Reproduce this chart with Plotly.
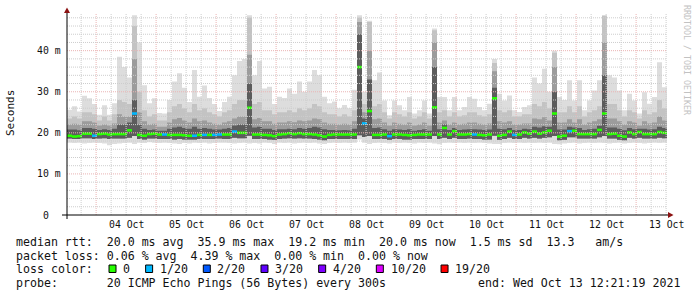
import pandas as pd
import plotly.graph_objects as go

# ---------------- data (2-hour bins, 03 Oct 12:21 -> 13 Oct 12:21) ----------------
start = pd.Timestamp("2021-10-03 12:21:19")
end = pd.Timestamp("2021-10-13 12:21:19")
bin_hours = 2

rtt_max = [25.6,26.5,25.2,29.0,28.4,27.0,24.4,26.7,24.4,27.2,
           38.5,36.0,33.5,48.6,42.0,31.6,27.2,28.4,24.8,24.7,
           28.0,32.5,34.5,31.0,27.5,35.3,28.8,31.5,28.5,27.0,
           25.3,27.5,28.8,34.0,37.5,38.0,48.6,34.0,37.5,30.8,
           31.2,27.0,28.8,28.5,30.8,29.5,32.5,30.0,32.5,35.3,
           34.0,28.8,27.2,27.6,26.0,26.8,26.0,30.5,48.6,30.0,
           47.3,32.8,34.7,27.9,24.3,27.9,26.7,25.5,28.7,24.7,
           25.5,27.9,24.7,45.4,28.7,28.7,25.5,28.7,25.5,26.3,
           28.7,28.3,26.3,25.5,27.1,38.0,29.5,27.9,29.1,25.5,
           25.1,26.3,26.7,33.5,32.0,35.6,30.0,40.0,28.7,28.0,
           32.8,27.9,32.8,25.5,27.9,30.3,32.8,48.6,34.0,33.5,
           30.3,25.5,29.5,27.9,24.7,29.9,27.1,28.7,37.2,31.1]

rtt_up2 = [23.5,24.0,23.5,25.0,25.0,24.5,23.0,24.0,23.0,24.5,
           28.0,27.5,27.0,46.0,30.0,25.5,24.0,24.5,23.0,23.0,
           25.0,26.5,27.0,26.0,25.0,27.0,25.5,26.0,25.0,24.5,
           24.0,25.0,25.5,27.0,28.0,28.0,48.0,27.0,27.5,25.5,
           25.5,24.5,25.0,25.0,25.5,25.0,26.0,25.5,26.0,27.0,
           26.5,25.0,24.5,24.5,24.0,24.5,24.0,25.5,48.0,27.0,
           47.0,26.5,27.0,25.0,23.5,25.0,24.5,24.0,25.0,23.5,
           24.0,25.0,23.5,45.0,25.0,25.5,24.0,25.0,24.0,24.3,
           25.0,25.0,24.3,24.0,24.5,37.0,25.5,25.0,25.5,24.0,
           24.0,24.5,24.5,27.0,26.5,27.5,26.0,39.5,25.0,25.0,
           26.5,25.0,26.5,24.0,25.0,25.5,26.5,48.5,27.0,27.0,
           25.5,24.0,25.5,25.0,23.5,25.5,24.5,25.0,28.0,26.0]

rtt_up3 = [22.0,22.2,22.0,22.8,22.8,22.5,21.8,22.0,21.8,22.3,
           24.5,24.0,24.0,38.0,25.0,22.8,22.0,22.2,21.5,21.5,
           22.5,23.3,23.6,23.0,22.5,23.5,22.8,23.0,22.5,22.2,
           22.0,22.5,22.8,23.5,24.0,24.0,39.0,23.3,23.6,22.8,
           22.8,22.2,22.5,22.5,22.8,22.6,23.0,22.8,23.0,23.5,
           23.3,22.5,22.2,22.2,22.0,22.2,22.0,22.8,47.0,25.0,
           40.0,23.3,23.5,22.5,21.8,22.5,22.2,22.0,22.5,21.8,
           22.0,22.5,21.8,42.0,22.5,23.0,22.0,22.5,22.0,22.2,
           22.5,22.5,22.2,22.0,22.3,35.0,22.8,22.5,22.8,22.0,
           22.0,22.3,22.3,23.5,23.3,23.8,23.0,36.0,22.5,22.5,
           23.3,22.5,23.3,22.0,22.5,22.8,23.3,42.0,23.5,23.5,
           22.8,22.0,22.8,22.5,21.8,22.8,22.3,22.5,24.0,23.0]

rtt_up4 = [20.8,20.8,20.6,21.2,21.2,21.0,20.7,20.9,20.7,21.0,
           22.0,22.0,22.5,28.0,22.0,21.0,20.7,20.8,20.5,20.5,
           21.0,21.3,21.5,21.2,21.0,21.5,21.0,21.2,21.0,20.8,
           20.8,21.0,21.2,21.8,22.0,22.0,32.0,21.3,21.5,21.0,
           21.0,20.7,20.9,20.9,21.0,20.9,21.2,21.0,21.2,21.5,
           21.3,20.9,20.7,20.7,20.6,20.7,20.6,21.0,44.0,23.5,
           33.0,21.2,21.3,20.9,20.5,20.9,20.8,20.7,20.9,20.5,
           20.7,20.9,20.5,36.0,20.9,22.0,20.7,21.2,20.7,20.8,
           20.9,20.9,20.8,20.7,20.8,31.0,21.0,20.9,21.2,20.7,
           20.7,21.0,20.9,21.5,21.3,21.6,21.5,30.0,20.8,20.8,
           21.5,21.3,21.2,20.7,20.9,21.0,21.7,34.0,21.3,21.3,
           21.0,20.6,21.2,20.9,21.0,21.0,20.8,20.9,21.5,21.2]

rtt_median = [19.3,19.1,19.2,19.8,19.8,19.3,19.7,19.8,19.6,19.7,
              19.7,19.7,20.6,24.7,19.5,19.3,19.7,19.8,19.6,19.6,
              19.5,19.5,19.5,19.4,19.3,19.3,19.5,19.5,19.5,19.5,
              19.6,19.6,19.6,20.3,20.0,20.0,26.1,19.6,19.6,19.5,
              19.4,19.2,19.6,19.7,19.9,19.7,19.9,19.7,19.7,19.6,
              19.4,19.1,19.5,19.6,19.6,19.6,19.6,19.6,36.0,22.3,
              25.3,19.5,19.5,19.6,19.2,19.6,19.6,19.5,19.4,19.5,
              19.6,19.6,19.6,26.2,19.6,21.2,19.6,20.4,19.6,19.6,
              19.7,19.6,19.5,19.4,19.6,28.4,19.3,19.5,20.3,19.5,
              19.6,20.1,19.8,20.3,19.8,20.1,20.5,24.7,19.1,19.3,
              20.4,20.5,19.7,19.7,19.7,19.7,20.7,24.7,19.7,19.8,
              19.3,19.1,20.1,19.7,20.2,19.7,19.7,19.7,20.2,20.0]

rtt_low_in = [18.6,18.5,18.5,18.7,18.7,18.5,18.6,18.7,18.5,18.6,
              18.6,18.6,18.8,19.2,18.5,18.4,18.6,18.6,18.5,18.5,
              18.5,18.4,18.5,18.4,18.4,18.4,18.5,18.5,18.5,18.5,
              18.6,18.5,18.5,18.8,18.7,18.7,19.3,18.5,18.5,18.5,
              18.4,18.3,18.5,18.6,18.7,18.6,18.7,18.6,18.6,18.5,
              18.4,18.2,18.5,18.5,18.5,18.5,18.5,18.5,19.4,19.0,
              19.2,18.5,18.5,18.5,18.3,18.5,18.5,18.4,18.4,18.5,
              18.5,18.5,18.5,19.2,18.5,18.8,18.5,18.8,18.5,18.5,
              18.6,18.5,18.5,18.4,18.4,19.3,18.3,18.5,18.8,18.5,
              18.5,18.8,18.6,18.8,18.6,18.8,18.9,19.2,18.2,18.3,
              18.9,18.9,18.6,18.6,18.6,18.6,18.9,19.2,18.6,18.6,
              18.3,18.2,18.8,18.6,18.8,18.6,18.6,18.6,18.8,18.7]

rtt_min = [17.6,17.5,17.6,17.4,17.5,17.6,17.5,17.4,17.0,17.3,
           17.4,17.5,17.6,17.3,17.6,17.5,17.7,17.6,17.5,17.6,
           17.5,17.4,17.3,17.5,17.4,17.6,17.5,17.6,17.4,17.5,
           17.6,17.6,17.5,17.4,17.5,17.6,17.4,17.5,17.4,17.6,
           17.5,17.3,17.6,17.5,17.6,17.4,17.5,17.6,17.5,17.6,
           17.4,17.3,17.5,17.6,17.5,17.6,17.5,17.6,18.4,17.6,
           17.3,17.5,17.6,17.5,17.4,17.6,17.5,17.6,17.5,17.4,
           17.6,17.5,17.6,17.4,17.2,17.5,17.6,17.5,17.6,17.5,
           17.6,17.5,17.6,17.5,17.4,17.3,17.3,17.5,17.6,17.5,
           17.6,17.5,17.6,17.5,17.6,17.5,17.6,17.3,17.2,17.4,
           17.5,17.6,17.4,17.5,17.6,17.5,17.6,17.5,17.4,17.5,
           17.6,17.4,17.5,17.6,17.5,17.4,17.5,17.6,17.5,17.6]

# lost pings out of 20 per bin
loss = [0]*120
for i in [5, 13, 19, 25, 27, 29, 30, 33, 59, 64, 81, 89, 100]:
    loss[i] = 1

loss_levels = [0, 1, 2, 3, 4, 10, 19]
loss_labels = ["0", "1/20", "2/20", "3/20", "4/20", "10/20", "19/20"]
loss_colors = ["#26ff00", "#00b8ff", "#0059ff", "#5e00ff", "#7e00ff", "#dd00ff", "#ff0000"]

y_ticks = [0, 10, 20, 30, 40]
y_ticktext = ["0\u00a0\u00a0", "10 m", "20 m", "30 m", "40 m"]
x_ticklabels = ["04 Oct", "05 Oct", "06 Oct", "07 Oct", "08 Oct",
                "09 Oct", "10 Oct", "11 Oct", "12 Oct", "13 Oct"]

legend_lines = [
    "median rtt:  20.0 ms avg  35.9 ms max  19.2 ms min  20.0 ms now  1.5 ms sd  13.3   am/s",
    "packet loss: 0.06 % avg  4.39 % max  0.00 % min  0.00 % now",
    "loss color:",
    "probe:       20 ICMP Echo Pings (56 Bytes) every 300s",
]
end_text = "end: Wed Oct 13 12:21:19 2021"

# ---------------- layout constants ----------------
W, H = 697, 297
PL, PR, PT, PB = 67, 667, 13, 215        # plot area in px
YMAX = 49.17
MONO = "DejaVu Sans Mono"

def px(xp):
    return (xp - PL) / (PR - PL)

def py(yp):
    return (PB - yp) / (PB - PT)

n = len(rtt_max)
edges = [start + pd.Timedelta(hours=bin_hours * i) for i in range(n + 1)]

fig = go.Figure()

def stepped(vals):
    return list(vals) + [vals[-1]]

bands = [
    (rtt_min, rtt_max, "#dddddd"),
    (rtt_low_in, rtt_up2, "#c3c3c3"),
    (rtt_low_in, rtt_up3, "#9c9c9c"),
    (rtt_low_in, rtt_up4, "#5c5c5c"),
]
for lo, hi, col in bands:
    fig.add_trace(go.Scatter(x=edges, y=stepped(lo), mode="lines",
                             line=dict(width=0, shape="hv", color=col),
                             hoverinfo="skip", showlegend=False))
    fig.add_trace(go.Scatter(x=edges, y=stepped(hi), mode="lines",
                             line=dict(width=0, shape="hv", color=col),
                             fill="tonexty", fillcolor=col,
                             hoverinfo="skip", showlegend=False))

# median as short horizontal pieces coloured by loss
def loss_index(l):
    idx = 0
    for k, lv in enumerate(loss_levels):
        if l >= lv:
            idx = k
    return idx

for k, col in enumerate(loss_colors):
    xs, ys = [], []
    for i in range(n):
        if loss_index(loss[i]) == k:
            xs += [edges[i], edges[i + 1], None]
            ys += [rtt_median[i], rtt_median[i], None]
    if xs:
        fig.add_trace(go.Scatter(x=xs, y=ys, mode="lines",
                                 line=dict(width=2.6, color=col),
                                 connectgaps=False, hoverinfo="skip",
                                 showlegend=False))

shapes = []
MINOR_C = "#cdcdcd"
MAJOR_C = "#eab4b4"
# grid: vertical every 6 h, red at midnight
t = pd.Timestamp("2021-10-03 18:00:00")
while t < end:
    major = (t.hour == 0)
    shapes.append(dict(type="line", xref="x", yref="paper", x0=t, x1=t, y0=0, y1=1,
                       line=dict(color=MAJOR_C if major else MINOR_C, width=1,
                                 dash="1px,1px"), layer="above"))
    t += pd.Timedelta(hours=6)
# horizontal every 2 ms, red every 10 ms
for v in range(2, 50, 2):
    major = (v % 10 == 0)
    shapes.append(dict(type="line", xref="paper", yref="y", x0=0, x1=1, y0=v, y1=v,
                       line=dict(color=MAJOR_C if major else MINOR_C, width=1,
                                 dash="1px,1px"), layer="above"))
# axes
shapes.append(dict(type="line", xref="paper", yref="paper", x0=px(62), x1=px(669),
                   y0=0, y1=0, line=dict(color="#000000", width=1), layer="above"))
shapes.append(dict(type="line", xref="paper", yref="paper", x0=0, x1=0,
                   y0=py(219), y1=py(11), line=dict(color="#000000", width=1), layer="above"))
# arrows
shapes.append(dict(type="path", xref="paper", yref="paper",
                   path=f"M {px(673.5)} {py(215)} L {px(668)} {py(212)} L {px(668)} {py(218)} Z",
                   fillcolor="#8c1212", line=dict(width=0), layer="above"))
shapes.append(dict(type="path", xref="paper", yref="paper",
                   path=f"M {px(67)} {py(7.5)} L {px(64)} {py(13)} L {px(70)} {py(13)} Z",
                   fillcolor="#8c1212", line=dict(width=0), layer="above"))

annotations = []
def text(x, y, s, size, xanchor="left", color="#111111", angle=0, xref="paper", yref="paper"):
    annotations.append(dict(x=x, y=y, xref=xref, yref=yref, text=s, showarrow=False,
                            xanchor=xanchor, yanchor="middle", textangle=angle,
                            borderpad=0, borderwidth=0,
                            font=dict(family=MONO, size=size, color=color)))

# y tick labels
for v, s in zip(y_ticks, y_ticktext):
    text(px(61), v, s, 9.8, xanchor="right", yref="y")
# x tick labels at noon
for d, s in enumerate(x_ticklabels):
    t = pd.Timestamp("2021-10-04 12:00:00") + pd.Timedelta(days=d)
    text(t, py(224.5), s, 9.8, xanchor="center", xref="x")

text(px(10.5), py(113.5), "Seconds", 11, xanchor="center", angle=-90)
text(px(687), py(60), "RRDTOOL / TOBI OETIKER", 8.3, xanchor="center",
     color="#c2c2c2", angle=90)

CW = 7.02
line_y = [241.7, 255.5, 269.3, 283.3]
for s, yy in zip(legend_lines, line_y):
    text(px(16), py(yy), s.replace(" ", "\u00a0"), 11.6)
text(px(477.5), py(line_y[3]), end_text.replace(" ", "\u00a0"), 11.6)

# loss colour boxes
bx = 109.0
for lab, col in zip(loss_labels, loss_colors):
    shapes.append(dict(type="rect", xref="paper", yref="paper",
                       x0=px(bx), x1=px(bx + 7), y0=py(265), y1=py(272.5),
                       fillcolor=col, line=dict(color="#000000", width=1), layer="above"))
    lx = bx + 14.2
    text(px(lx), py(line_y[2]), lab, 11.6)
    bx = lx + len(lab) * CW + 15.4

fig.update_layout(
    width=W, height=H,
    margin=dict(l=PL, r=W - PR, t=PT, b=H - PB, pad=0),
    paper_bgcolor="#ffffff", plot_bgcolor="#ffffff",
    showlegend=False,
    xaxis=dict(type="date", range=[start, end], showgrid=False, zeroline=False,
               showticklabels=False, showline=False, ticks=""),
    yaxis=dict(range=[0, YMAX], showgrid=False, zeroline=False,
               showticklabels=False, showline=False, ticks=""),
    shapes=shapes, annotations=annotations,
)

fig.write_html("out.html")
